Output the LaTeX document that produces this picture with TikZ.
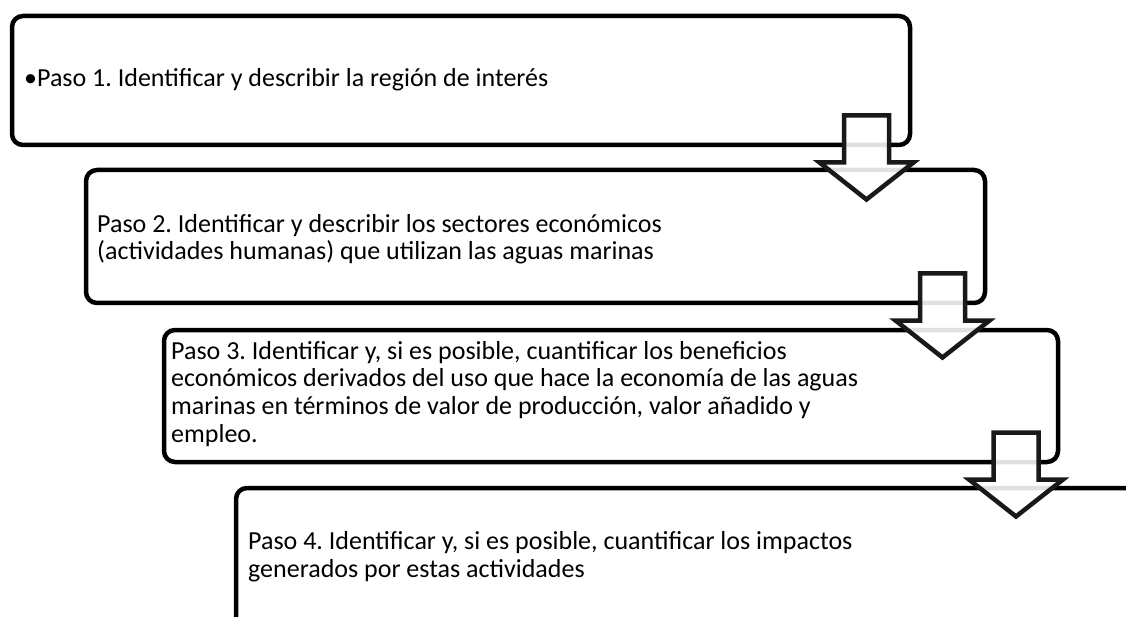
\documentclass[tikz,border=0pt]{standalone}
\usepackage{fontspec}
\setmainfont{Carlito}
\frenchspacing
\begin{document}
\begin{tikzpicture}[x=1pt,y=-1pt,
  stepbox/.style={draw=black,line width=4.5pt,rounded corners=11pt,fill=white},
  steptext/.style={anchor=base west,inner sep=0pt,align=left,
    font=\fontsize{26}{27.8}\selectfont,text=black},
  downarrow/.style={draw=black!90,line width=4.5pt,fill=white,fill opacity=0.88,miter limit=10}]
\useasboundingbox (0,0) rectangle (1126,617);
\clip (0,0) rectangle (1126,617);
% boxes
\draw[stepbox] (12,16) rectangle (910,145);
\draw[stepbox] (86,170) rectangle (985,303);
\draw[stepbox] (164,330) rectangle (1058,462);
\draw[stepbox] (236,488) rectangle (1160,660);
% texts (anchor = baseline of last line)
\node[steptext] (t1) at (24,87) {•Paso 1. Identificar y describir la región de interés};
\node[steptext] (t2) at (97,260) {Paso 2. Identificar y describir los sectores económicos\\(actividades humanas) que utilizan las aguas marinas};
\node[steptext] (t3) at (171,442.5) {Paso 3. Identificar y, si es posible, cuantificar los beneficios\\económicos derivados del uso que hace la economía de las aguas\\marinas en términos de valor de producción, valor añadido y\\empleo.};
\node[steptext] (t4) at (248,577) {Paso 4. Identificar y, si es posible, cuantificar los impactos\\generados por estas actividades};
% arrows
\foreach \cx/\ty [count=\i] in {866.5/115.5, 942.5/273.5, 1016/432.5}{
  \draw[downarrow] (\cx-22.5,\ty) -- (\cx+22.5,\ty) -- (\cx+22.5,\ty+47) -- (\cx+47,\ty+47)
    -- (\cx,\ty+84) -- (\cx-47,\ty+47) -- (\cx-22.5,\ty+47) -- cycle;
}
\end{tikzpicture}
\end{document}
